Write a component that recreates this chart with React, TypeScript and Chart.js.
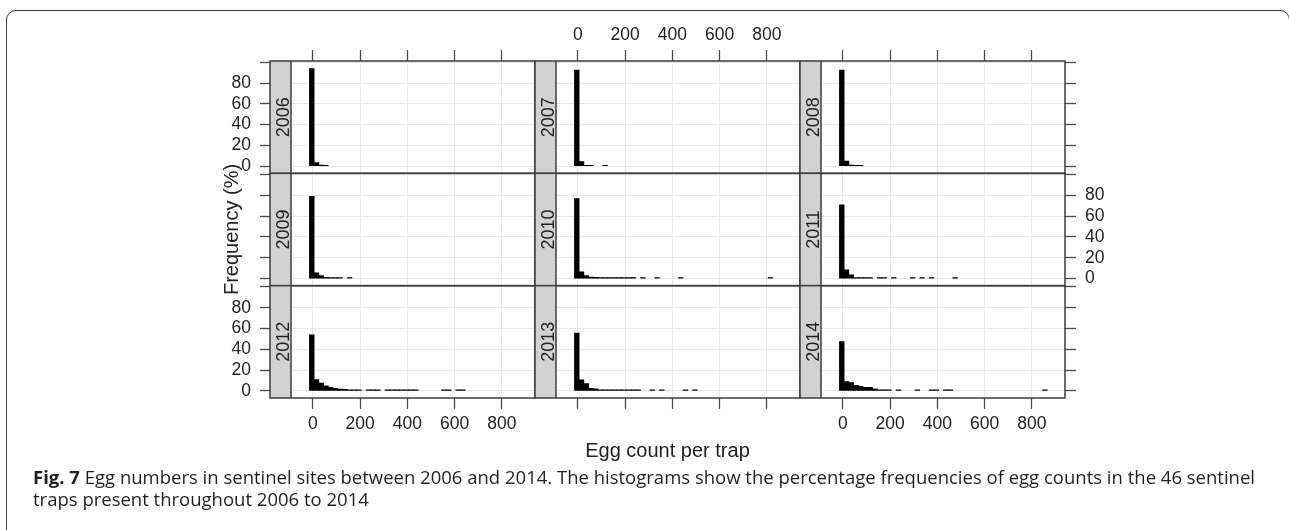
import React, { useEffect, useRef } from "react";
import { Chart, registerables } from "chart.js";

Chart.register(...registerables);

// ---------- data ----------
const YEARS = ["2006", "2007", "2008", "2009", "2010", "2011", "2012", "2013", "2014"];

// histogram bin centres (egg count per trap), bin width 20
const BIN_CENTERS = [
  -5, 15, 35, 55, 75, 95, 115, 135, 155, 175,
  195, 215, 235, 255, 275, 295, 315, 335, 355, 375,
  395, 415, 435, 455, 475, 495, 515, 535, 555, 575,
  595, 615, 635, 655, 675, 695, 715, 735, 755, 775,
  795, 815, 835, 855, 875,
];

// percentage frequencies per bin
const FREQ_2006 = [
  94, 3.5, 1.2, 0.5, 0, 0, 0, 0, 0, 0,
  0, 0, 0, 0, 0, 0, 0, 0, 0, 0,
  0, 0, 0, 0, 0, 0, 0, 0, 0, 0,
  0, 0, 0, 0, 0, 0, 0, 0, 0, 0,
  0, 0, 0, 0, 0,
];
const FREQ_2007 = [
  92.5, 4.5, 0.8, 0.6, 0, 0, 0.4, 0, 0, 0,
  0, 0, 0, 0, 0, 0, 0, 0, 0, 0,
  0, 0, 0, 0, 0, 0, 0, 0, 0, 0,
  0, 0, 0, 0, 0, 0, 0, 0, 0, 0,
  0, 0, 0, 0, 0,
];
const FREQ_2008 = [
  92.5, 5, 1.2, 0.6, 0.3, 0, 0, 0, 0, 0,
  0, 0, 0, 0, 0, 0, 0, 0, 0, 0,
  0, 0, 0, 0, 0, 0, 0, 0, 0, 0,
  0, 0, 0, 0, 0, 0, 0, 0, 0, 0,
  0, 0, 0, 0, 0,
];
const FREQ_2009 = [
  79, 5.5, 2.8, 1.2, 1, 0.8, 0.6, 0, 0.3, 0,
  0, 0, 0, 0, 0, 0, 0, 0, 0, 0,
  0, 0, 0, 0, 0, 0, 0, 0, 0, 0,
  0, 0, 0, 0, 0, 0, 0, 0, 0, 0,
  0, 0, 0, 0, 0,
];
const FREQ_2010 = [
  77, 6.5, 3, 1.5, 1.2, 1, 0.8, 0.6, 0.5, 0.4,
  0.3, 0.3, 0.3, 0, 0.3, 0, 0, 0.3, 0, 0,
  0, 0, 0.3, 0, 0, 0, 0, 0, 0, 0,
  0, 0, 0, 0, 0, 0, 0, 0, 0, 0,
  0, 0.3, 0, 0, 0,
];
const FREQ_2011 = [
  71, 8.5, 3.6, 0.8, 1, 0.8, 0.8, 0, 0.3, 0.3,
  0, 0.3, 0, 0, 0, 0.3, 0, 0.3, 0, 0.3,
  0, 0, 0, 0, 0.3, 0, 0, 0, 0, 0,
  0, 0, 0, 0, 0, 0, 0, 0, 0, 0,
  0, 0, 0, 0, 0,
];
const FREQ_2012 = [
  54, 11, 7.5, 5, 3.5, 2.5, 1.8, 1.5, 0.6, 0.4,
  0.3, 0, 0.3, 0.3, 0.3, 0, 0.3, 0.3, 0.3, 0.3,
  0.3, 0.3, 0.3, 0, 0, 0, 0, 0, 0.3, 0.3,
  0, 0.3, 0.3, 0, 0, 0, 0, 0, 0, 0,
  0, 0, 0, 0, 0,
];
const FREQ_2013 = [
  55.6, 10.6, 7, 2.5, 2, 1, 0.8, 0.6, 0.5, 0.4,
  0.4, 0.3, 0.3, 0.3, 0, 0, 0.3, 0, 0.3, 0,
  0, 0, 0, 0.3, 0, 0.3, 0, 0, 0, 0,
  0, 0, 0, 0, 0, 0, 0, 0, 0, 0,
  0, 0, 0, 0, 0,
];
const FREQ_2014 = [
  47.5, 9, 8, 5.5, 4.5, 3.5, 3.5, 2, 0.5, 0.3,
  0.3, 0, 0.3, 0, 0, 0, 0.3, 0, 0, 0.3,
  0.3, 0, 0.3, 0.3, 0, 0, 0, 0, 0, 0,
  0, 0, 0, 0, 0, 0, 0, 0, 0, 0,
  0, 0, 0, 0.3, 0,
];
const FREQS = [
  FREQ_2006, FREQ_2007, FREQ_2008,
  FREQ_2009, FREQ_2010, FREQ_2011,
  FREQ_2012, FREQ_2013, FREQ_2014,
];

const X_TICKS = [0, 200, 400, 600, 800];
const X_TICK_LABELS = ["0", "200", "400", "600", "800"];
const Y_TICKS = [0, 20, 40, 60, 80, 100];
const Y_TICK_LABELS = ["0", "20", "40", "60", "80", ""];
const X_LIMITS = [-93, 940];
const Y_LIMITS = [-6.8, 101.2];

const X_TITLE = "Egg count per trap";
const Y_TITLE = "Frequency (%)";
const CAPTION_BOLD = "Fig. 7";
const CAPTION_LINE1 =
  " Egg numbers in sentinel sites between 2006 and 2014. The histograms show the percentage frequencies of egg counts in the 46 sentinel";
const CAPTION_LINE2 = "traps present throughout 2006 to 2014";

// ---------- styles ----------
const FONT = "'Liberation Sans', Arimo, Arial, Helvetica, sans-serif";
const TICK_MARK = "#4a4a4a";
const GRID = "#e8e8e8";
const FRAME = "#3d3d3d";
const STRIP_FILL = "#d2d2d2";
const TEXT = "#222";
const PANEL_W = 244;
const STRIP_W = 21;

export default function App() {
  const ref = useRef<HTMLCanvasElement>(null);

  useEffect(() => {
    const canvas = ref.current;
    if (!canvas) return;

    const setH = (h: number) => (s: any) => { s.height = h; };
    const setW = (w: number) => (s: any) => { s.width = w; };
    const xTicks = (s: any) => { s.ticks = X_TICKS.map((v) => ({ value: v })); };
    const yTicks = (s: any) => { s.ticks = Y_TICKS.map((v) => ({ value: v })); };

    const spacer = (position: string, stack: string, weight: number) => ({
      type: "linear", axis: "x", position, stack, weight, stackWeight: STRIP_W,
      min: 0, max: 1, offset: false,
      grid: { display: false }, ticks: { display: false }, border: { display: false },
      afterFit: setH(40),
    });
    const xAxis = (position: string, stack: string, weight: number, labels: boolean, grid: boolean) => ({
      type: "linear", axis: "x", position, stack, weight, stackWeight: PANEL_W,
      min: X_LIMITS[0], max: X_LIMITS[1], offset: false,
      afterBuildTicks: xTicks, afterFit: setH(40),
      grid: {
        offset: false,
        drawOnChartArea: grid, color: GRID, lineWidth: 1,
        tickColor: TICK_MARK, tickWidth: 1.3, tickLength: 11,
      },
      border: { display: false },
      ticks: {
        autoSkip: false, maxRotation: 0, padding: position === "top" ? 4 : 5,
        color: TEXT, font: { family: FONT, size: 17.5 },
        callback: (_v: any, i: number) => (labels ? X_TICK_LABELS[i] : ""),
      },
    });
    const yAxis = (position: string, stack: string, weight: number, labels: boolean, grid: boolean) => ({
      type: "linear", axis: "y", position, stack, weight, stackWeight: 1,
      min: Y_LIMITS[0], max: Y_LIMITS[1], offset: false,
      afterBuildTicks: yTicks, afterFit: setW(60),
      grid: {
        drawOnChartArea: grid, color: GRID, lineWidth: 1,
        tickColor: TICK_MARK, tickWidth: 1.3, tickLength: position === "left" ? 10 : 11,
      },
      border: { display: false },
      ticks: {
        autoSkip: false, padding: 9,
        color: TEXT, font: { family: FONT, size: 17.5 },
        callback: (_v: any, i: number) => (labels ? Y_TICK_LABELS[i] : ""),
      },
    });

    const scales: any = {};
    for (let c = 0; c < 3; c++) {
      scales["sb" + c] = spacer("bottom", "B", 1 + 2 * c);
      scales["xb" + c] = xAxis("bottom", "B", 2 + 2 * c, c !== 1, true);
      scales["st" + c] = spacer("top", "T", 6 - 2 * c);
      scales["xt" + c] = xAxis("top", "T", 5 - 2 * c, c === 1, false);
    }
    for (let r = 0; r < 3; r++) {
      scales["yl" + r] = yAxis("left", "L", 3 - r, r !== 1, true);
      scales["yr" + r] = yAxis("right", "R", 1 + r, r === 1, false);
    }

    const datasets = YEARS.map((year, k) => ({
      label: year,
      data: BIN_CENTERS.map((x, i) => ({ x, y: FREQS[k][i] === 0 ? null : FREQS[k][i] })),
      xAxisID: "xb" + (k % 3),
      yAxisID: "yl" + Math.floor(k / 3),
      backgroundColor: "#000",
      borderWidth: 0,
      grouped: false,
      barPercentage: 1,
      categoryPercentage: 1,
      minBarLength: 1,
    }));

    const decor = {
      id: "decor",
      afterDatasetsDraw(chart: any) {
        const ctx = chart.ctx;
        const s = chart.scales;
        ctx.save();
        for (let k = 0; k < 9; k++) {
          const r = Math.floor(k / 3);
          const c = k % 3;
          const top = s["yl" + r].top;
          const bottom = s["yl" + r].bottom;
          const sl = s["sb" + c].left;
          const sr = s["sb" + c].right;
          const pr = s["xb" + c].right;
          ctx.fillStyle = STRIP_FILL;
          ctx.fillRect(sl, top, sr - sl, bottom - top);
          ctx.strokeStyle = FRAME;
          ctx.lineWidth = 1.5;
          ctx.strokeRect(sl, top, pr - sl, bottom - top);
          ctx.beginPath();
          ctx.moveTo(sr, top);
          ctx.lineTo(sr, bottom);
          ctx.stroke();
          ctx.save();
          ctx.translate((sl + sr) / 2, (top + bottom) / 2);
          ctx.rotate(-Math.PI / 2);
          ctx.fillStyle = TEXT;
          ctx.font = `18px ${FONT}`;
          ctx.textAlign = "center";
          ctx.textBaseline = "alphabetic";
          ctx.fillText(YEARS[k], 0, 8);
          ctx.restore();
        }
        const area = chart.chartArea;
        ctx.fillStyle = TEXT;
        ctx.font = `20px ${FONT}`;
        ctx.textAlign = "center";
        ctx.textBaseline = "alphabetic";
        ctx.fillText(X_TITLE, (area.left + area.right) / 2, 457);
        ctx.save();
        ctx.translate(238, (area.top + area.bottom) / 2);
        ctx.rotate(-Math.PI / 2);
        ctx.fillText(Y_TITLE, 0, 0);
        ctx.restore();
        ctx.restore();
      },
    };

    const chart = new Chart(canvas, {
      type: "bar",
      data: { datasets } as any,
      options: {
        animation: false,
        responsive: false,
        events: [],
        layout: { padding: { left: 210, right: 164, top: 21, bottom: 92 } },
        plugins: { legend: { display: false }, tooltip: { enabled: false }, title: { display: false } },
        scales,
      } as any,
      plugins: [decor],
    });
    return () => chart.destroy();
  }, []);

  return (
    <div style={{ position: "fixed", left: 0, top: 0, width: 1289, height: 530, overflow: "hidden", background: "#fff" }}>
      <div
        style={{
          position: "absolute", left: 6, top: 10, width: 1284, height: 600,
          border: "1.5px solid #3c3c3c", borderRadius: 10, boxSizing: "border-box",
        }}
      />
      <canvas ref={ref} width={1289} height={530} style={{ position: "absolute", left: 0, top: 0, width: 1289, height: 530 }} />
      <div
        style={{
          position: "absolute", left: 33, top: 465.5, fontFamily: "'Open Sans', sans-serif",
          fontSize: 18.5, lineHeight: "22.5px", color: "#231f20", whiteSpace: "nowrap",
        }}
      >
        <div><b>{CAPTION_BOLD}</b>{CAPTION_LINE1}</div>
        <div>{CAPTION_LINE2}</div>
      </div>
    </div>
  );
}
